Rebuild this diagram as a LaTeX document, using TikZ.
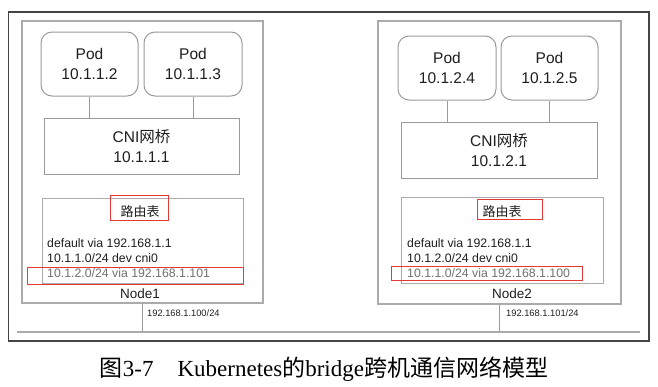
\documentclass[tikz,border=0pt]{standalone}
\usepackage{fontspec}
\setmainfont{Liberation Serif}
\newfontfamily\lsans{Liberation Sans}
\newfontfamily\cjk{Noto Sans CJK SC}
\usetikzlibrary{positioning}

\definecolor{ink}{HTML}{1E1E1E}
\definecolor{dimtext}{HTML}{707070}
\definecolor{boxgray}{HTML}{ABABAB}
\definecolor{podgray}{HTML}{9A9A9A}
\definecolor{framegray}{HTML}{454545}
\definecolor{markred}{HTML}{E53935}

\begin{document}
\begin{tikzpicture}[x=1pt,y=-1pt,
  hostbox/.style={draw=boxgray,line width=1.1pt,inner sep=0pt},
  podbox/.style={draw=podgray,line width=1pt,rounded corners=11pt,
    minimum height=64pt,align=center,text=ink,
    font=\lsans\fontsize{15.5}{20}\selectfont},
  bridgebox/.style={draw=podgray,line width=1pt,minimum height=56pt,
    align=center,text=ink,font=\lsans\fontsize{15.5}{20}\selectfont},
  routebox/.style={draw=boxgray,line width=1pt},
  route/.style={anchor=base west,inner sep=0pt,text=ink,
    font=\lsans\fontsize{12.3}{15}\selectfont},
  link/.style={draw=podgray,line width=0.9pt},
  markbox/.style={draw=markred,line width=0.9pt},
  iplabel/.style={anchor=west,inner sep=0pt,text=ink,
    font=\lsans\fontsize{9.3}{11}\selectfont}]
  \useasboundingbox (0,0) rectangle (658,386);
  % outer frame and the shared network
  \draw[framegray,line width=1.4pt] (8.5,12) rectangle (649,341);
  \coordinate (netL) at (17,332);
  \coordinate (netR) at (640,332);
  \draw[boxgray,line width=1.5pt] (netL) -- (netR);

  % Node1
  \node[hostbox,minimum width=241pt,minimum height=282pt] (node1) at (142.5,162) {};
  \node[podbox,minimum width=97pt] (pod12) at (89.5,64) {Pod\\10.1.1.2};
  \node[podbox,minimum width=98pt] (pod13) at (193,64) {Pod\\10.1.1.3};
  \node[bridgebox,minimum width=195pt] (cni1) at (141.5,146) {CNI{\cjk 网桥}\\10.1.1.1};
  \draw[link] (pod12.south) -- (pod12.south |- cni1.north);
  \draw[link] (pod13.south) -- (pod13.south |- cni1.north);
  \node[routebox,minimum width=201pt,minimum height=85pt] (rt1) at (142.5,240.5) {};
  \node[text=ink,font=\cjk\fontsize{13}{15}\selectfont] (rt1title) at (140,212) {路由表};
  \node[route] (r1a) at (47,247.5) {default via 192.168.1.1};
  \node[route] (r1b) at (47,262.5) {10.1.1.0/24 dev cni0};
  \node[route,text=dimtext] (r1c) at (47,277) {10.1.2.0/24 via 192.168.1.101};
  \draw[markbox] (110,195) rectangle (168,220);
  \draw[markbox] (27,267) rectangle (243,284);
  \node[text=ink,font=\lsans\fontsize{13.5}{15}\selectfont] (lab1) at (140,294) {Node1};
  \draw[link,line width=1.2pt] (node1.south) -- (node1.south |- netL);
  \node[iplabel] (ip1) at (147,313) {192.168.1.100/24};

  % Node2
  \node[hostbox,minimum width=243pt,minimum height=283pt] (node2) at (499.5,162.5) {};
  \node[podbox,minimum width=98pt] (pod24) at (447,68) {Pod\\10.1.2.4};
  \node[podbox,minimum width=97pt] (pod25) at (549.5,68) {Pod\\10.1.2.5};
  \node[bridgebox,minimum width=196pt] (cni2) at (499,150) {CNI{\cjk 网桥}\\10.1.2.1};
  \draw[link] (pod24.south) -- (pod24.south |- cni2.north);
  \draw[link] (pod25.south) -- (pod25.south |- cni2.north);
  \node[routebox,minimum width=202pt,minimum height=86pt] (rt2) at (502,240) {};
  \node[text=ink,font=\cjk\fontsize{13}{15}\selectfont] (rt2title) at (502,212) {路由表};
  \node[route] (r2a) at (407,247.5) {default via 192.168.1.1};
  \node[route] (r2b) at (407,262.5) {10.1.2.0/24 dev cni0};
  \node[route,text=dimtext] (r2c) at (407,277) {10.1.1.0/24 via 192.168.1.100};
  \draw[markbox] (477,199) rectangle (542,219);
  \draw[markbox] (391,266) rectangle (582,280);
  \node[text=ink,font=\lsans\fontsize{13.5}{15}\selectfont] (lab2) at (512,294) {Node2};
  \draw[link,line width=1.2pt] (node2.south) -- (node2.south |- netL);
  \node[iplabel] (ip2) at (506,313) {192.168.1.101/24};

  % caption
  \node[text=black,font=\fontsize{23}{26}\selectfont] (caption) at (324,369.5)
    {{\cjk 图}3-7\hspace{24pt}Kubernetes{\cjk 的}bridge{\cjk 跨机通信网络模型}};
\end{tikzpicture}
\end{document}
